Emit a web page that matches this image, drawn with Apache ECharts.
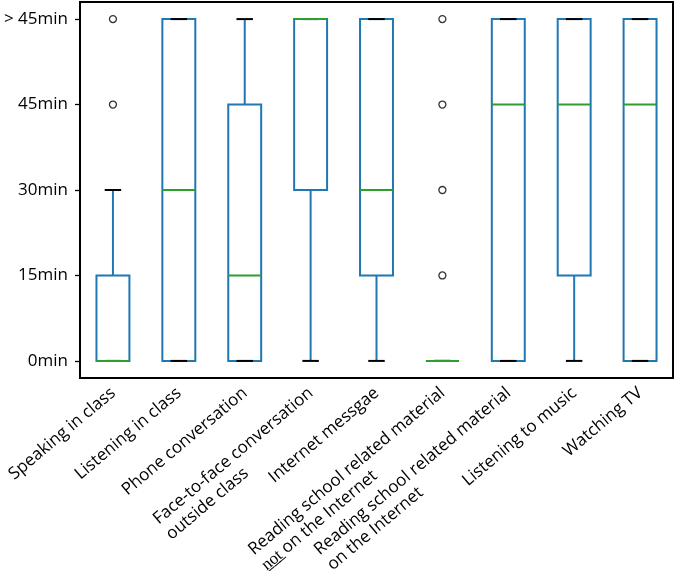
<!DOCTYPE html>
<html>
<head>
<meta charset="utf-8">
<script src="https://cdn.jsdelivr.net/npm/echarts@6/dist/echarts.min.js"></script>
<style>
  html, body { margin: 0; padding: 0; background: #fff; }
  #chart { width: 675px; height: 571px; }
</style>
</head>
<body>
<div id="chart"></div>
<script>
// categories, rich text lines ({a|...} keeps the lines left aligned)
const categories = [
  'Speaking in class',
  'Listening in class',
  'Phone conversation',
  'Face-to-face conversation\noutside class',
  'Internet messgae',
  'Reading school related material\nn\u0332o\u0332t\u0332 on the Internet',
  'Reading school related material\non the Internet',
  'Listening to music',
  'Watching TV'
]
const yLabels = ['0min', '15min', '30min', '45min', '> 45min']

// box stats, in y label index units
const whiskerLow = [0, 0, 0, 0, 0, 0, 0, 0, 0]
const q1 = [0, 0, 0, 2, 1, 0, 0, 1, 0]
const median = [0, 2, 1, 4, 2, 0, 3, 3, 3]
const q3 = [1, 4, 3, 4, 4, 0, 4, 4, 4]
const whiskerHigh = [2, 4, 4, 4, 4, 0, 4, 4, 4]
const outliers = [[0, 3], [0, 4], [5, 1], [5, 2], [5, 3], [5, 4]]

const boxData = categories.map((c, i) => [i, whiskerLow[i], q1[i], median[i], q3[i], whiskerHigh[i]])

const BLUE = '#1f77b4'
const GREEN = '#2ca02c'

const chart = echarts.init(document.getElementById('chart'))

const renderBox = (params, api) => {
  const x = api.value(0)
  const lo = api.coord([x, api.value(1)])
  const b1 = api.coord([x, api.value(2)])
  const m = api.coord([x, api.value(3)])
  const b3 = api.coord([x, api.value(4)])
  const hi = api.coord([x, api.value(5)])
  const bw = api.size([1, 0])[0] * 0.5
  const cx = lo[0]
  const lw = 2
  const line = (x1, y1, x2, y2, color) => ({
    type: 'line',
    shape: { x1, y1, x2, y2 },
    style: { stroke: color, lineWidth: lw }
  })
  return {
    type: 'group',
    children: [
      {
        type: 'rect',
        shape: { x: cx - bw / 2, y: b3[1], width: bw, height: b1[1] - b3[1] },
        style: { fill: null, stroke: BLUE, lineWidth: lw }
      },
      line(cx, b1[1], cx, lo[1], BLUE),
      line(cx, b3[1], cx, hi[1], BLUE),
      line(cx - bw / 4, lo[1], cx + bw / 4, lo[1], '#000'),
      line(cx - bw / 4, hi[1], cx + bw / 4, hi[1], '#000'),
      line(cx - bw / 2, m[1], cx + bw / 2, m[1], GREEN)
    ]
  }
}

const option = {
  animation: false,
  grid: {
    left: 80,
    right: 2,
    top: 2,
    bottom: 193,
    outerBoundsMode: 'none',
    show: true,
    borderColor: '#000',
    borderWidth: 2
  },
  xAxis: {
    type: 'category',
    data: categories,
    boundaryGap: true,
    axisLine: { onZero: false, lineStyle: { color: '#000', width: 2 } },
    axisTick: { show: false },
    axisLabel: {
      interval: 0,
      rotate: 40,
      align: 'right',
      verticalAlign: 'top',
      margin: 0,
      padding: [0, 8, 0, 0],
      color: '#000',
      fontFamily: 'Open Sans',
      fontSize: 17,
      formatter: (v) => v.split('\n').map(s => '{a|' + s + '}').join('\n'),
      rich: {
        a: { align: 'left', fontFamily: 'Open Sans', fontSize: 17, color: '#000', lineHeight: 20 }
      }
    }
  },
  yAxis: {
    type: 'value',
    min: -0.2,
    max: 4.2,
    splitLine: { show: false },
    axisLine: { show: true, lineStyle: { color: '#000', width: 2 } },
    axisTick: {
      show: true,
      length: 5,
      customValues: [0, 1, 2, 3, 4],
      lineStyle: { color: '#000', width: 1.3 }
    },
    axisLabel: {
      customValues: [0, 1, 2, 3, 4],
      formatter: (v) => yLabels[Math.round(v)],
      margin: 12,
      color: '#000',
      fontFamily: 'Open Sans',
      fontSize: 17
    }
  },
  series: [
    {
      type: 'custom',
      renderItem: renderBox,
      encode: { x: 0, y: [1, 2, 3, 4, 5] },
      data: boxData,
      z: 2
    },
    {
      type: 'scatter',
      data: outliers,
      symbol: 'circle',
      symbolSize: 7,
      itemStyle: { color: '#fff', borderColor: '#000', borderWidth: 1.3 },
      z: 3
    }
  ]
}

chart.setOption(option)
</script>
</body>
</html>
